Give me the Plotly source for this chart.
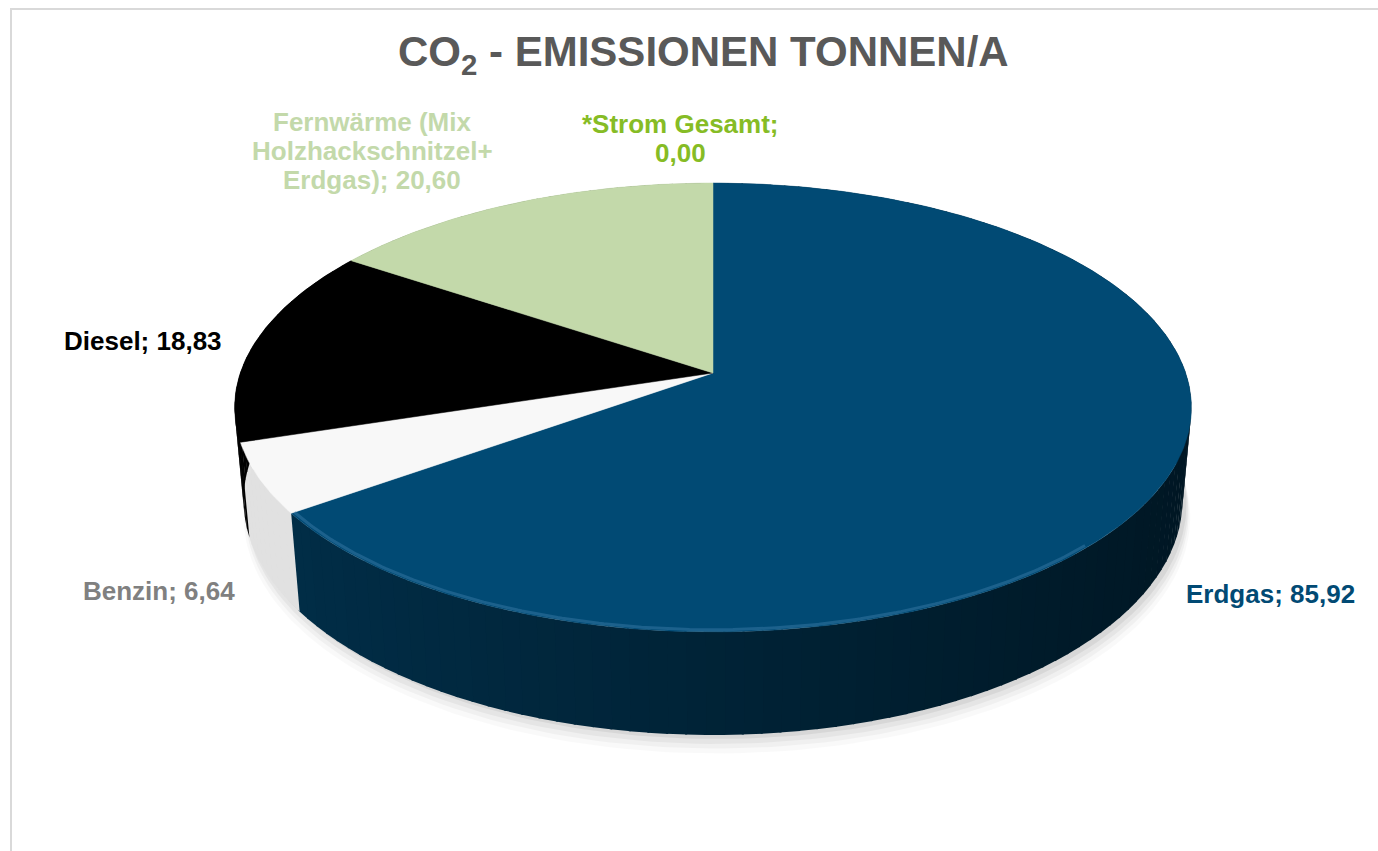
import textwrap
import numpy as np
import plotly.graph_objects as go

# ---------------- data ----------------
categories = ["Erdgas", "Benzin", "Diesel",
              "Fernwärme (Mix Holzhackschnitzel+ Erdgas)", "*Strom Gesamt"]
values = [85.92, 6.64, 18.83, 20.60, 0.00]
title_text = "<b>CO<sub>2</sub> - EMISSIONEN TONNEN/A</b>"

# ---------------- styles ----------------
top_colors = [(1, 74, 116), (248, 248, 248), (0, 0, 0), (195, 217, 170), (134, 188, 37)]
label_colors = ["#014a74", "#808080", "#000000", "#c3d9aa", "#86bc25"]
rim_dark = [(0.36, 0.70), (0.09, 0.12), (0.0, 0.0), (0.30, 0.30), (0.3, 0.3)]
label_pos = [(1270, 594), (159, 591), (143, 341), (372, 122), (680, 124)]
LINE_H = 29
FONT = "Liberation Sans, Arial, sans-serif"

W, H = 1378, 851
CX, CY = 713, 373
PHI = np.radians(28)
D = 5.748
FX, FY = 2717, 2683
HGT = 0.228


def proj(theta, r=1.0, w=0.0):
    u = r * np.sin(theta)
    v = -r * np.cos(theta)
    s, c = np.sin(PHI), np.cos(PHI)
    depth = D - (v * c + w * s)
    yc = -v * s + w * c
    return CX + FX * u / depth, CY - FY * yc / depth


def rgb(c, dark=0.0):
    r, g, b = [int(round(x * (1 - dark))) for x in c]
    return f"rgb({r},{g},{b})"


total = sum(values)
bounds = np.concatenate([[0], np.cumsum(values)]) / total * 2 * np.pi

fig = go.Figure()


def poly(xs, ys, color, line_w=0, line_c=None):
    fig.add_trace(go.Scatter(
        x=list(xs), y=list(ys), mode="lines", fill="toself",
        fillcolor=color, line=dict(width=line_w, color=line_c or color),
        hoverinfo="skip", showlegend=False))


# soft shadow under the pie (mostly below the front edge)
full = np.linspace(0, 2 * np.pi, 240)
for rr, dy, a in [(1.008, 16, 0.025), (1.005, 12, 0.035), (1.003, 8, 0.045), (1.0, 4, 0.06)]:
    xs, ys = proj(full, rr, -HGT)
    poly(xs + 4, ys + dy, f"rgba(0,0,0,{a})")

# rims (outer side surface)
for i, v in enumerate(values):
    a0, a1 = bounds[i], bounds[i + 1]
    if a1 - a0 <= 0:
        continue
    nseg = max(1, int(np.ceil(np.degrees(a1 - a0) / 2)))
    edges = np.linspace(a0, a1, nseg + 1)
    for j in range(nseg):
        t = np.linspace(edges[j], edges[j + 1] + 0.004, 4)
        xt, yt = proj(t, 1, 0)
        xb, yb = proj(t[::-1], 1, -HGT)
        mid = (edges[j] + edges[j + 1]) / 2
        lo, hi = rim_dark[i]
        dk = lo + (hi - lo) * (1 + np.sin(mid)) / 2
        poly(np.concatenate([xt, xb]), np.concatenate([yt, yb]), rgb(top_colors[i], dk))

# top faces
for i, v in enumerate(values):
    a0, a1 = bounds[i], bounds[i + 1]
    if a1 - a0 <= 0:
        continue
    t = np.linspace(a0, a1, max(4, int(np.degrees(a1 - a0))))
    xs, ys = proj(t, 1, 0)
    poly(np.concatenate([[CX], xs, [CX]]), np.concatenate([[CY], ys, [CY]]),
         rgb(top_colors[i]), line_w=0.5)

# bevel highlight along the front top edge of the largest slice
i0 = 0
t = np.linspace(max(bounds[i0], np.radians(135)), bounds[i0 + 1], 200)
xs, ys = proj(t, 0.993, 0)
fig.add_trace(go.Scatter(x=xs, y=ys, mode="lines",
                         line=dict(width=3, color="rgba(80,140,185,0.35)"),
                         hoverinfo="skip", showlegend=False))

# labels
for i, (cat, v) in enumerate(zip(categories, values)):
    txt = f"{cat}; {v:.2f}".replace(".", ",")
    lines = textwrap.wrap(txt, width=18)
    x0, y0 = label_pos[i]
    for k, ln in enumerate(lines):
        fig.add_annotation(x=x0, y=y0 + k * LINE_H, xref="x", yref="y",
                           text=f"<b>{ln}</b>", showarrow=False,
                           xanchor="center", yanchor="middle",
                           font=dict(family=FONT, size=26, color=label_colors[i]))

# title
fig.add_annotation(x=703, y=54, xref="x", yref="y", text=title_text,
                   showarrow=False, xanchor="center", yanchor="middle",
                   font=dict(family=FONT, size=42, color="#595959"))

# chart-area border
fig.add_shape(type="rect", xref="x", yref="y", x0=11, y0=9, x1=1500, y1=1000,
              line=dict(color="#d9d9d9", width=2), fillcolor="rgba(0,0,0,0)",
              layer="above")

fig.update_layout(
    width=W, height=H, margin=dict(l=0, r=0, t=0, b=0),
    paper_bgcolor="white", plot_bgcolor="white",
    xaxis=dict(range=[0, W], visible=False, fixedrange=True),
    yaxis=dict(range=[H, 0], visible=False, fixedrange=True),
    showlegend=False,
)

fig.write_html("out.html")
